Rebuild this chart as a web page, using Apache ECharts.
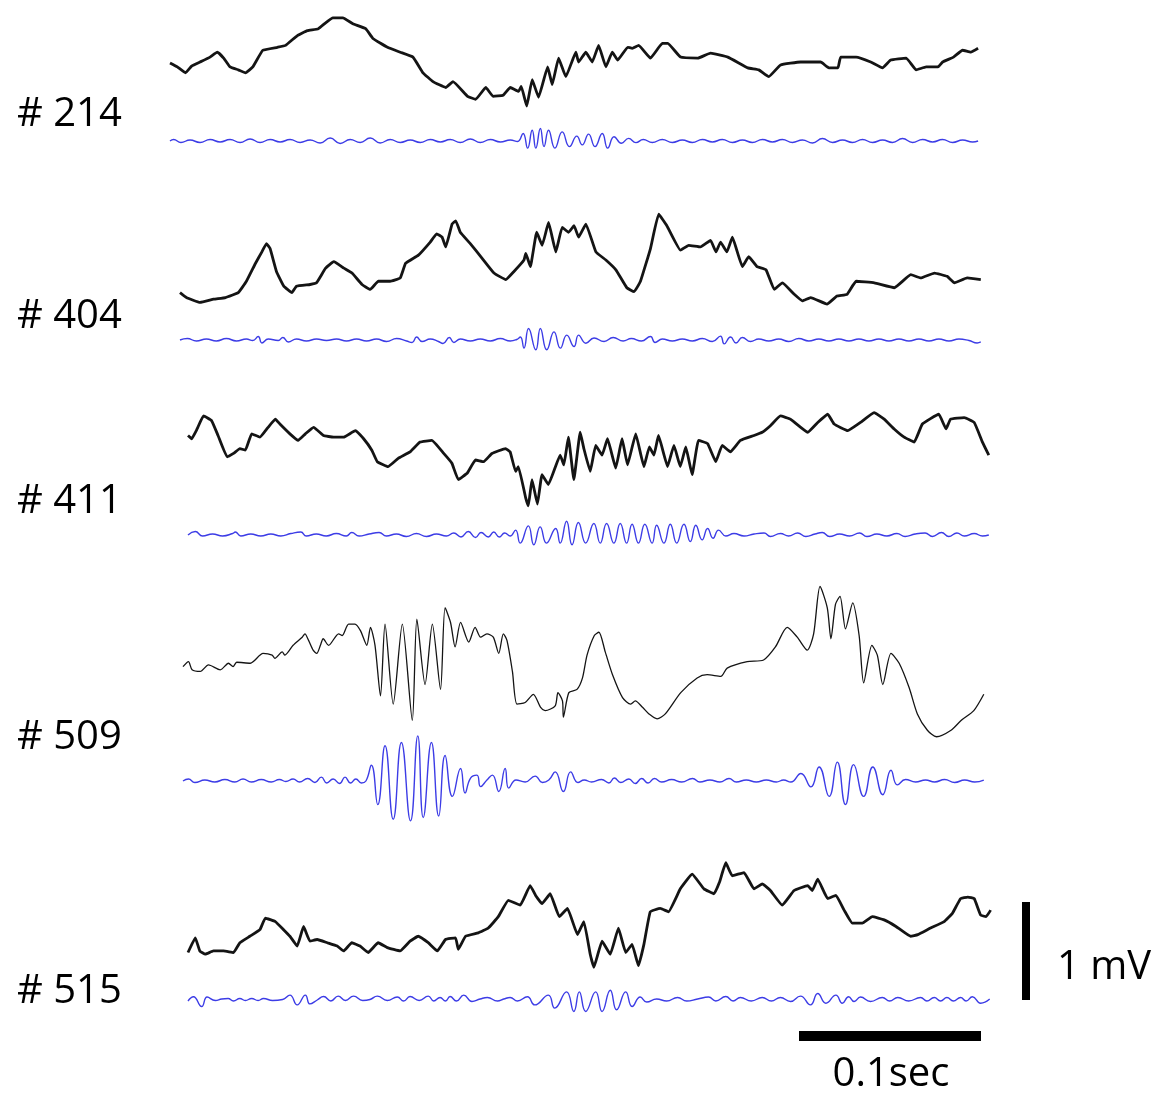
<!DOCTYPE html>
<html><head><meta charset="utf-8">
<script src="https://cdn.jsdelivr.net/npm/echarts@6/dist/echarts.min.js"></script>
<style>html,body{margin:0;padding:0;background:#fff}#c{width:1162px;height:1097px}</style>
</head><body><div id="c"></div>
<script>
// time in samples (2 kHz => 0.5 ms / sample), amplitude in µV
const panelLabels = ['# 214', '# 404', '# 411', '# 509', '# 515'];
const scaleTimeLabel = '0.1sec';
const scaleVoltLabel = '1 mV';
const scaleTimeSamples = 200;   // 0.1 s at 2 kHz
const scaleVoltUV = 1000;       // 1 mV

const raw214 = [[0,-10],[8,-50],[17,-110],[24,-40],[33,0],[44,50],[52,100],[59,40],[66,-50],[75,-80],[83,-110],[91,-50],[102,120],[118,150],[127,170],[140,270],[151,320],[163,340],[171,400],[179,450],[190,450],[201,390],[215,340],[223,240],[239,150],[253,100],[267,50],[278,-110],[289,-200],[303,-260],[311,-200],[327,-350],[336,-380],[347,-260],[355,-350],[366,-340],[374,-260],[383,-300],[386,-250],[392,-450],[398,-180],[405,-360],[415,-50],[420,-230],[427,40],[435,-150],[446,100],[449,0],[457,100],[464,0],[471,170],[479,-50],[486,100],[492,20],[503,150],[508,140],[515,170],[528,40],[541,190],[547,190],[561,50],[580,40],[594,90],[613,50],[635,-60],[647,-80],[658,-150],[671,-30],[693,0],[715,0],[724,-60],[734,-60],[737,50],[754,50],[770,0],[783,-60],[792,20],[809,40],[820,-80],[831,-50],[844,-50],[849,0],[861,50],[871,120],[880,100],[888,140]];
const filt214 = [[0,0],[4,15],[12,-15],[22,10],[33,-15],[44,15],[55,-10],[66,15],[77,-15],[88,20],[99,-15],[110,15],[121,-10],[132,15],[143,-15],[154,10],[165,-20],[176,30],[187,-25],[198,15],[209,-15],[220,30],[231,-20],[242,15],[253,-15],[264,10],[275,-15],[286,15],[297,-10],[308,15],[319,-15],[330,20],[341,-15],[352,15],[363,-10],[374,10],[382,-5],[388,77],[393,-73],[398,110],[402,-73],[407,127],[411,-57],[416,110],[423,-73],[431,93],[439,-57],[447,50],[453,-40],[460,70],[467,-57],[475,77],[481,-73],[488,43],[496,-23],[504,27],[512,-17],[520,15],[530,-15],[541,15],[552,-15],[563,10],[574,-15],[585,15],[596,-10],[607,15],[618,-15],[629,10],[640,-15],[651,15],[662,-10],[673,15],[684,-15],[695,10],[706,-20],[717,25],[728,-15],[739,10],[750,-15],[761,15],[772,-15],[783,10],[794,-15],[805,25],[816,-15],[827,15],[838,-10],[849,15],[860,-15],[871,10],[882,-10],[888,0]];

const raw404 = [[0,-333],[7,-383],[22,-433],[37,-400],[50,-383],[64,-333],[73,-217],[83,-33],[90,83],[95,167],[99,117],[106,-117],[114,-267],[123,-333],[128,-267],[143,-250],[150,-233],[160,-83],[169,-17],[180,-83],[189,-133],[200,-250],[209,-300],[218,-217],[231,-217],[242,-183],[248,-33],[262,50],[275,183],[282,267],[288,233],[292,133],[299,367],[303,400],[308,283],[319,167],[332,17],[345,-133],[358,-200],[367,-117],[378,0],[380,67],[385,-67],[392,283],[398,150],[405,383],[413,83],[420,333],[427,283],[433,350],[438,233],[446,367],[457,83],[468,0],[479,-100],[491,-283],[499,-323],[506,-217],[517,117],[526,467],[535,350],[550,100],[559,150],[572,133],[583,200],[589,83],[594,183],[601,83],[607,233],[618,-67],[625,33],[634,-67],[644,-100],[653,-300],[662,-233],[675,-350],[684,-417],[693,-383],[711,-450],[722,-367],[733,-350],[743,-217],[763,-233],[785,-283],[803,-150],[814,-183],[829,-133],[843,-167],[851,-233],[865,-183],[880,-200]];
const filt404 = [[0,0],[8,15],[18,-10],[29,10],[40,-10],[51,15],[62,-10],[73,10],[80,-5],[86,35],[90,-30],[97,10],[108,-5],[113,25],[119,-20],[128,10],[139,-10],[150,10],[161,-5],[172,10],[183,-10],[194,10],[205,-10],[216,10],[227,-15],[238,15],[249,-10],[255,-25],[260,30],[266,-15],[275,10],[284,-15],[289,-35],[296,25],[301,-25],[308,10],[319,-10],[330,10],[341,-10],[352,15],[363,-10],[370,5],[374,30],[378,-83],[383,117],[391,-100],[396,117],[403,-100],[411,83],[418,-83],[425,50],[433,-67],[438,50],[446,-33],[455,20],[466,-15],[476,25],[487,-10],[496,15],[507,-10],[517,35],[522,-25],[530,10],[541,-10],[552,10],[563,-10],[574,15],[585,-15],[594,40],[598,-40],[605,30],[611,-30],[618,25],[627,-15],[636,10],[647,-10],[658,10],[669,-15],[680,15],[691,-10],[702,10],[713,-10],[724,10],[735,-10],[746,10],[757,-10],[768,10],[779,-10],[790,10],[801,-10],[812,10],[823,-10],[834,10],[845,-10],[856,10],[867,-5],[876,-30],[880,-20]];

const raw411 = [[0,250],[4,217],[10,317],[17,450],[26,400],[33,250],[43,33],[50,67],[57,117],[63,100],[70,267],[79,233],[88,333],[96,417],[101,367],[112,267],[121,200],[129,267],[138,333],[149,250],[160,233],[171,233],[184,300],[193,217],[202,100],[208,-17],[220,-67],[231,17],[244,83],[255,183],[268,200],[281,67],[290,-33],[297,-200],[307,-133],[316,0],[325,-17],[334,67],[349,117],[354,83],[360,-117],[363,-67],[371,-383],[374,-467],[378,-200],[384,-450],[389,-150],[396,-250],[409,50],[413,-50],[418,233],[424,-200],[431,283],[435,117],[442,-117],[448,150],[455,50],[461,217],[470,-83],[477,217],[483,-50],[492,267],[501,-67],[507,133],[512,50],[517,250],[527,-67],[534,150],[541,-67],[547,133],[554,-150],[561,200],[571,167],[580,-17],[587,150],[596,83],[607,200],[622,250],[631,283],[640,350],[651,450],[662,417],[681,283],[692,383],[703,467],[710,367],[725,300],[739,383],[754,483],[765,417],[776,317],[787,233],[798,183],[807,367],[825,467],[833,317],[838,417],[853,433],[864,383],[873,183],[880,50]];
const filt411 = [[0,0],[8,35],[16,-10],[27,10],[38,-10],[49,15],[52,30],[58,-10],[69,10],[80,-10],[91,10],[102,-10],[113,15],[124,30],[130,-10],[141,10],[152,-10],[163,15],[174,-10],[180,25],[188,-10],[199,10],[210,25],[218,-10],[229,10],[240,-15],[251,15],[262,-15],[273,10],[284,-10],[292,20],[300,-20],[308,35],[316,-25],[322,25],[330,-20],[336,30],[342,-20],[348,20],[354,-10],[360,50],[365,-83],[374,93],[380,-100],[387,83],[394,-83],[404,67],[409,-83],[416,140],[422,-100],[429,127],[437,-83],[446,117],[453,-83],[460,117],[468,-83],[475,117],[482,-83],[488,110],[495,-83],[502,110],[510,-83],[515,100],[523,-83],[530,110],[537,-83],[545,110],[552,-67],[558,100],[565,-50],[571,67],[577,-33],[583,50],[591,-10],[600,15],[611,-10],[622,10],[633,20],[640,-15],[651,15],[660,-10],[670,20],[679,-15],[689,10],[697,25],[705,-15],[716,10],[727,-10],[738,20],[746,-15],[757,10],[768,-10],[779,15],[788,-15],[799,10],[810,20],[818,-15],[828,25],[836,-15],[845,20],[853,-10],[864,15],[873,-10],[880,0]];

const raw509 = [[0,-67],[6,-17],[10,-100],[19,-117],[28,-50],[41,-100],[50,-33],[55,-67],[59,-23],[74,-33],[88,67],[98,50],[101,17],[109,83],[112,50],[121,150],[131,233],[134,267],[138,200],[143,100],[147,67],[151,150],[154,217],[160,150],[171,267],[175,250],[182,367],[189,367],[195,300],[202,150],[206,333],[211,150],[217,-367],[222,367],[231,-450],[241,367],[252,-617],[257,417],[266,-250],[274,367],[283,-300],[288,533],[294,383],[299,133],[305,383],[314,183],[321,333],[327,233],[334,267],[341,233],[347,67],[352,267],[356,200],[362,-117],[367,-450],[376,-433],[385,-350],[393,-483],[398,-517],[409,-467],[412,-333],[417,-417],[418,-583],[424,-333],[433,-300],[439,-183],[444,50],[452,250],[457,283],[464,83],[472,-150],[483,-383],[492,-450],[497,-417],[505,-483],[512,-550],[521,-600],[530,-550],[547,-333],[565,-183],[576,-150],[591,-167],[598,-83],[620,-17],[638,0],[651,133],[664,333],[675,233],[686,100],[693,267],[700,750],[708,533],[712,217],[717,567],[722,650],[728,317],[736,583],[743,250],[748,-233],[757,150],[763,50],[769,-250],[778,67],[787,-33],[798,-283],[807,-550],[818,-717],[828,-783],[844,-717],[855,-617],[869,-517],[880,-350]];
const filt509 = [[0,0],[6,20],[13,-15],[24,10],[35,-10],[46,15],[57,-10],[66,20],[75,-10],[86,15],[97,-10],[106,15],[113,-5],[121,20],[128,-10],[137,25],[145,-15],[152,40],[158,-20],[165,20],[172,-25],[178,40],[184,-20],[190,20],[196,-20],[201,0],[207,160],[214,-240],[222,360],[231,-390],[240,393],[250,-407],[258,460],[264,-373],[273,393],[281,-357],[288,260],[296,-157],[305,127],[310,-123],[316,30],[323,60],[327,-57],[334,10],[340,60],[347,-107],[354,127],[358,-73],[366,10],[376,-10],[387,50],[395,-15],[402,10],[409,93],[418,-107],[426,93],[434,-15],[441,10],[449,-10],[460,15],[468,-20],[474,30],[481,-15],[490,20],[497,-25],[504,25],[511,-20],[518,25],[526,-10],[537,15],[548,-10],[560,25],[568,-10],[579,10],[590,-10],[600,25],[608,-10],[619,10],[630,-10],[641,10],[652,-10],[660,10],[668,-10],[679,77],[690,-60],[699,143],[710,-157],[719,193],[728,-240],[737,167],[748,-157],[758,143],[769,-140],[778,110],[785,-40],[794,15],[805,-10],[816,10],[826,-10],[837,15],[848,-15],[859,10],[870,-10],[880,10]];

const raw515 = [[0,-383],[8,-233],[13,-367],[19,-400],[28,-367],[39,-367],[50,-383],[57,-283],[68,-217],[79,-150],[85,-33],[96,-67],[105,-150],[112,-217],[120,-317],[127,-117],[134,-267],[142,-250],[153,-283],[164,-317],[171,-367],[180,-283],[189,-317],[198,-383],[209,-283],[219,-333],[233,-367],[244,-267],[253,-217],[264,-283],[274,-367],[283,-250],[294,-233],[297,-350],[305,-217],[319,-183],[330,-133],[341,-17],[352,150],[365,100],[376,300],[382,200],[389,117],[398,217],[408,-17],[417,67],[428,-200],[435,-67],[442,-400],[446,-533],[455,-267],[464,-400],[473,-133],[481,-383],[488,-300],[495,-517],[501,-300],[508,33],[519,67],[528,33],[541,267],[554,417],[567,267],[578,217],[584,333],[591,533],[598,400],[611,433],[622,267],[631,317],[640,250],[653,100],[666,250],[681,300],[686,250],[692,367],[703,167],[712,200],[721,50],[730,-83],[741,-83],[752,-17],[765,-50],[778,-117],[794,-217],[802,-200],[816,-133],[831,-67],[840,17],[849,167],[857,183],[864,167],[871,0],[877,-17],[882,50]];
const filt515 = [[0,-10],[6,33],[15,-67],[21,30],[30,-5],[37,10],[44,15],[50,-10],[57,15],[63,-5],[70,15],[77,-5],[83,15],[93,-5],[104,5],[112,50],[120,-50],[129,50],[134,-40],[142,0],[149,35],[157,-10],[165,40],[173,-5],[182,40],[192,-5],[200,5],[208,40],[219,-5],[230,30],[237,-10],[244,35],[254,-5],[264,40],[270,-10],[277,25],[283,-10],[288,35],[295,-10],[303,50],[312,-15],[321,10],[329,25],[340,-10],[347,10],[354,25],[362,-10],[373,33],[381,-50],[396,50],[403,-83],[416,83],[424,-117],[430,83],[437,-117],[448,83],[455,-117],[464,100],[471,-100],[481,83],[488,-67],[497,30],[504,-20],[515,10],[526,-10],[538,25],[548,-10],[560,10],[572,30],[580,-10],[591,35],[599,-10],[607,25],[619,-10],[631,25],[641,-10],[651,25],[662,-15],[673,40],[684,-50],[692,67],[701,-33],[712,50],[719,-33],[726,33],[732,-15],[739,30],[750,-15],[763,25],[771,-10],[780,25],[792,-10],[805,25],[812,-10],[820,25],[827,-10],[834,25],[841,-10],[849,25],[855,-10],[862,33],[871,-33],[881,10]];

const rawTraces = [raw214, raw404, raw411, raw509, raw515];
const filtTraces = [filt214, filt404, filt411, filt509, filt515];

// ---------- layout (pixels) ----------
const PX_PER_UV = 0.098;     // 1 mV = 98 px
const PX_PER_SAMPLE = 0.91;  // 0.1 s = 182 px
const GRID_W = 830;
const layout = [
  {x0:170, rawY:62,  rawH:120, filtY:141,  labelY:115},
  {x0:180, rawY:260, rawH:180, filtY:340,  labelY:317},
  {x0:188, rawY:460, rawH:180, filtY:535,  labelY:502},
  {x0:183, rawY:660, rawH:180, filtY:781,  labelY:738},
  {x0:188, rawY:915, rawH:180, filtY:1000, labelY:992}
];
const FILT_H = 120;

const grids = [], xAxes = [], yAxes = [], series = [];
function addGrid(left, centerY, h, width) {
  const i = grids.length;
  grids.push({left: left, top: centerY - h / 2, width: width, height: h, containLabel: false});
  xAxes.push({type: 'value', gridIndex: i, min: 0, max: width / PX_PER_SAMPLE, show: false});
  yAxes.push({type: 'value', gridIndex: i, min: -h / 2 / PX_PER_UV, max: h / 2 / PX_PER_UV, show: false});
  return i;
}
layout.forEach((L, p) => {
  const gi = addGrid(L.x0, L.rawY, L.rawH, GRID_W);
  series.push({type: 'line', xAxisIndex: gi, yAxisIndex: gi, data: rawTraces[p], symbol: 'none',
    smooth: p === 3 ? 0.25 : 0.1, silent: true, animation: false,
    lineStyle: {color: '#141414', width: p === 3 ? 1.3 : 2.8, join: 'round'}});
  const gj = addGrid(L.x0, L.filtY, FILT_H, GRID_W);
  series.push({type: 'line', xAxisIndex: gj, yAxisIndex: gj, data: filtTraces[p], symbol: 'none',
    smooth: 0.5, silent: true, animation: false,
    lineStyle: {color: '#3c3ce6', width: 1.4}});
});

// scale bars grid
const SB = {left: 790, top: 880, w: 260, h: 170};
const sg = grids.length;
grids.push({left: SB.left, top: SB.top, width: SB.w, height: SB.h});
xAxes.push({type: 'value', gridIndex: sg, min: 0, max: SB.w / PX_PER_SAMPLE, show: false});
yAxes.push({type: 'value', gridIndex: sg, min: 0, max: SB.h / PX_PER_UV, show: false});
const hbarX = (799 - SB.left) / PX_PER_SAMPLE, hbarY = (SB.top + SB.h - 1036) / PX_PER_UV;
const vbarX = (1026 - SB.left) / PX_PER_SAMPLE, vbarY = (SB.top + SB.h - 1000) / PX_PER_UV;
series.push({type: 'line', xAxisIndex: sg, yAxisIndex: sg, symbol: 'none', silent: true, animation: false, clip: false,
  data: [[hbarX, hbarY], [hbarX + scaleTimeSamples, hbarY]], lineStyle: {color: '#000', width: 10, cap: 'butt'}});
series.push({type: 'line', xAxisIndex: sg, yAxisIndex: sg, symbol: 'none', silent: true, animation: false, clip: false,
  data: [[vbarX, vbarY], [vbarX, vbarY + scaleVoltUV]], lineStyle: {color: '#000', width: 8, cap: 'butt'}});

const FONT = '"Open Sans", "Liberation Sans", sans-serif';
const graphics = layout.map((L, p) => ({
  type: 'text', x: 17, y: L.labelY, silent: true,
  style: {text: panelLabels[p], fontSize: 40, fontFamily: FONT, fill: '#000', textAlign: 'left', textVerticalAlign: 'middle'}
}));
graphics.push({type: 'text', x: 1057, y: 968, silent: true,
  style: {text: scaleVoltLabel, fontSize: 40, fontFamily: FONT, fill: '#000', textAlign: 'left', textVerticalAlign: 'middle'}});
graphics.push({type: 'text', x: 891, y: 1075, silent: true,
  style: {text: scaleTimeLabel, fontSize: 40, fontFamily: FONT, fill: '#000', textAlign: 'center', textVerticalAlign: 'middle'}});

const chart = echarts.init(document.getElementById('c'), null, {renderer: 'canvas'});
chart.setOption({
  backgroundColor: '#fff',
  animation: false,
  grid: grids, xAxis: xAxes, yAxis: yAxes, series: series,
  graphic: graphics
});
</script></body></html>
